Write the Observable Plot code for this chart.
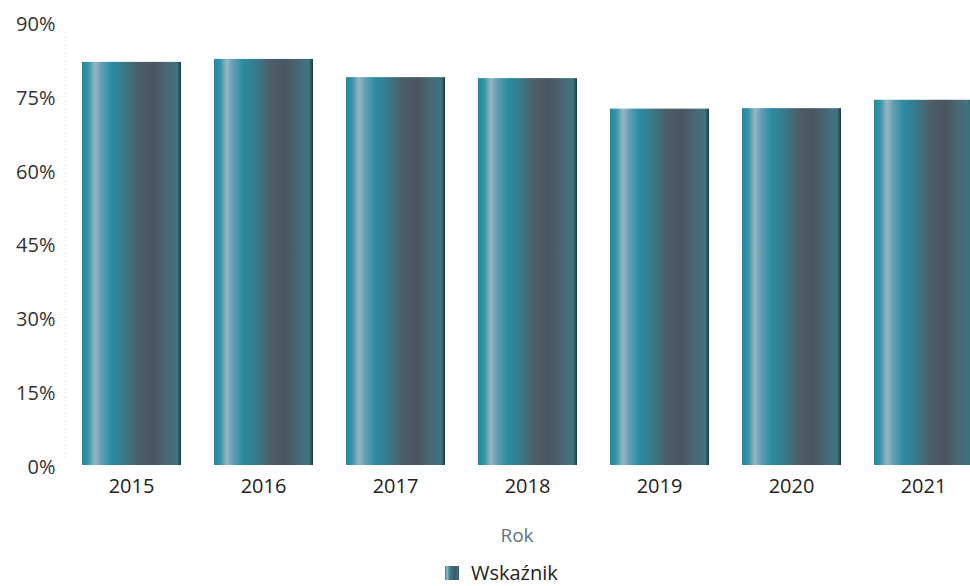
<!DOCTYPE html>
<html>
<head>
<meta charset="utf-8">
<script src="https://cdn.jsdelivr.net/npm/d3@7"></script>
<script src="https://cdn.jsdelivr.net/npm/@observablehq/plot@0.6"></script>
<style>
  html, body { margin: 0; padding: 0; background: #fff; width: 970px; height: 586px; overflow: hidden; }
  body { font-family: "Open Sans", "Noto Sans", sans-serif; }
  #legend { position: absolute; left: 445px; top: 560px; display: flex; align-items: center; gap: 12px; font-size: 20px; color: #222; line-height: 26px; }
  #legend .sw { width: 14px; height: 14px; background: linear-gradient(to right, #1c89a0 0%, #9bb9c3 16%, #2a8ba1 32%, #4c5d68 60%, #4a5660 72%, #3e7581 94%, #28343b 100%); }
</style>
</head>
<body>
<div id="chart"></div>
<div id="legend"><div class="sw"></div><span>Wskaźnik</span></div>
<script>
const years = ["2015", "2016", "2017", "2018", "2019", "2020", "2021"];
const values = [81.9, 82.5, 78.8, 78.6, 72.4, 72.5, 74.2];
const yTicks = [0, 15, 30, 45, 60, 75, 90];
const seriesName = "Wskaźnik";
const xTitle = "Rok";

const data = years.map((y, i) => ({year: y, value: values[i]}));

const W = 970, H = 552;
const left = 63, step = 132.5;

const chart = Plot.plot({
  width: W,
  height: H,
  marginTop: 22,
  marginBottom: H - 465,
  marginLeft: left,
  marginRight: 0,
  style: {fontFamily: "'Open Sans', 'Noto Sans', sans-serif", fontSize: "20px", background: "transparent", overflow: "visible"},
  x: {domain: years, range: [left, left + step * years.length], padding: 0},
  y: {domain: [0, 90], ticks: yTicks},
  marks: [
    Plot.ruleX([years[0]], {x: d => d, dx: -step / 2, y1: 1.5, y2: 90 - 1.6, stroke: "#cfcfcf", strokeDasharray: "1,3", strokeWidth: 1}),
    Plot.barY(data, {x: "year", y: "value", fill: "url(#barGrad)", insetLeft: 17, insetRight: 16}),
    Plot.axisY({ticks: yTicks, tickSize: 0, tickPadding: 8, tickFormat: d => d + "%", color: "#333", label: null, dy: 2}),
    Plot.axisX({tickSize: 0, tickPadding: 13, color: "#222", label: xTitle, labelAnchor: "center", labelArrow: "none", labelOffset: 76})
  ]
});

const ns = "http://www.w3.org/2000/svg";
const svg = chart.tagName.toLowerCase() === "svg" ? chart : chart.querySelector("svg");
const defs = document.createElementNS(ns, "defs");
defs.innerHTML = `
<linearGradient id="barGrad" x1="0" y1="0" x2="1" y2="0">
  <stop offset="0" stop-color="#1c89a0"/>
  <stop offset="0.06" stop-color="#3593a8"/>
  <stop offset="0.13" stop-color="#98b6c1"/>
  <stop offset="0.2" stop-color="#5c9fb0"/>
  <stop offset="0.3" stop-color="#2a8ba1"/>
  <stop offset="0.42" stop-color="#3a7b8a"/>
  <stop offset="0.56" stop-color="#4d5f6a"/>
  <stop offset="0.72" stop-color="#4b5560"/>
  <stop offset="0.86" stop-color="#476a76"/>
  <stop offset="0.96" stop-color="#3e7581"/>
  <stop offset="1" stop-color="#28343b"/>
</linearGradient>`;
svg.insertBefore(defs, svg.firstChild);

svg.querySelectorAll("text").forEach(t => {
  if (t.textContent === xTitle) { t.setAttribute("fill", "#5d7480"); t.style.fontSize = "19px"; }
});

document.getElementById("chart").appendChild(chart);
</script>
</body>
</html>
